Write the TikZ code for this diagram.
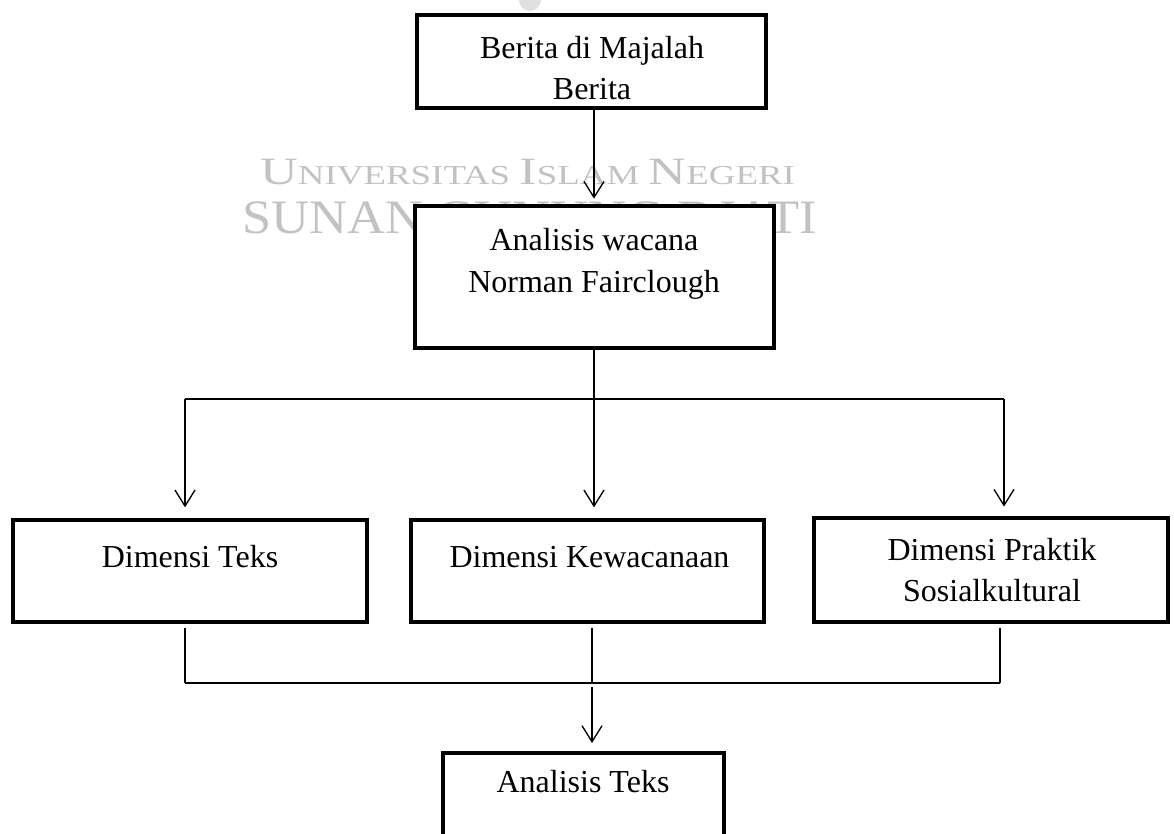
\documentclass[tikz,border=0pt]{standalone}
\usepackage{fontspec}
\setmainfont{Liberation Serif}
\usepackage{graphicx}
\usetikzlibrary{arrows.meta,calc,positioning}

\tikzset{
  box/.style={draw, line width=3pt, fill=white, inner sep=0pt},
  txt/.style={align=center, inner sep=0pt, font=\fontsize{24pt}{31pt}\selectfont},
  arr/.style={line width=1pt, -{Straight Barb[length=12pt,width=15pt,line width=1pt]}},
  link/.style={line width=1.5pt},
  bar/.style={line width=2.2pt},
  watermark/.style={anchor=base west, inner sep=0pt, text=black!24}
}

\begin{document}
\begin{tikzpicture}[x=0.75pt, y=-0.75pt]
    \useasboundingbox (0,0) rectangle (1174,834);
    \clip (0,0) rectangle (1174,834);
    \fill[black!12] (530,0) circle (11);
    \node[watermark] (uin) at (260,185) {\scalebox{1.35}[1]{{\fontsize{29pt}{29pt}\selectfont U}{\fontsize{20.5pt}{20pt}\selectfont NIVERSITAS }{\fontsize{29pt}{29pt}\selectfont I}{\fontsize{20.5pt}{20pt}\selectfont SLAM }{\fontsize{29pt}{29pt}\selectfont N}{\fontsize{20.5pt}{20pt}\selectfont EGERI}}};
    \node[watermark] (sgd) at (242,234) {\scalebox{1.095}[1]{\fontsize{36pt}{36pt}\selectfont SUNAN GUNUNG DJATI}};

    \node[box, minimum width=261.75pt, minimum height=69.75pt] (berita) at (591.5,61.5) {};
    \node[txt] (beritatxt) at (592,68) {Berita di Majalah\\Berita};
    \node[box, minimum width=269.25pt, minimum height=106.5pt] (fair) at (594.5,277) {};
    \node[txt] (fairtxt) at (594,264) {Analisis wacana\\Norman Fairclough};
    \node[box, minimum width=265.5pt, minimum height=76.5pt] (teks) at (190,571) {};
    \node[txt] (tekstxt) at (190,557) {Dimensi Teks};
    \node[box, minimum width=264.75pt, minimum height=76.5pt] (kew) at (587.5,571) {};
    \node[txt] (kewtxt) at (589.5,557) {Dimensi Kewacanaan};
    \node[box, minimum width=265.5pt, minimum height=78pt] (prak) at (991,570) {};
    \node[txt] (praktxt) at (992,570) {Dimensi Praktik\\Sosialkultural};
    \node[box, minimum width=210.75pt, minimum height=75pt] (anal) at (583.5,803) {};
    \node[txt] (analtxt) at (583,782) {Analisis Teks};

    \coordinate (split) at (594,399);
    \coordinate (splitL) at (185,399);
    \coordinate (splitR) at (1004,399);
    \coordinate (joinL) at (185,683);
    \coordinate (joinM) at (592,683);
    \coordinate (joinR) at (1000,683);

    \draw[arr, line width=1.5pt, shorten >=4pt] (berita.south -| split) -- (split |- fair.north);
    \draw[link] (split |- fair.south) -- (split);
    \draw[bar] (splitL) -- (splitR);
    \draw[arr, shorten >=8pt] (splitL) -- (splitL |- teks.north);
    \draw[arr, shorten >=8pt] (split) -- (split |- kew.north);
    \draw[arr, shorten >=7pt] (splitR) -- (splitR |- prak.north);

    \draw[link, line width=2pt, shorten <=3pt] (joinL |- teks.south) -- (joinL);
    \draw[link, line width=2pt, shorten <=3pt] (joinM |- kew.south) -- (joinM);
    \draw[link, line width=2pt, shorten <=3pt] (joinR |- prak.south) -- (joinR);
    \draw[link] (joinL) -- (joinR);
    \draw[arr, shorten <=3pt, shorten >=6pt] (joinM) -- (joinM |- anal.north);
\end{tikzpicture}
\end{document}
